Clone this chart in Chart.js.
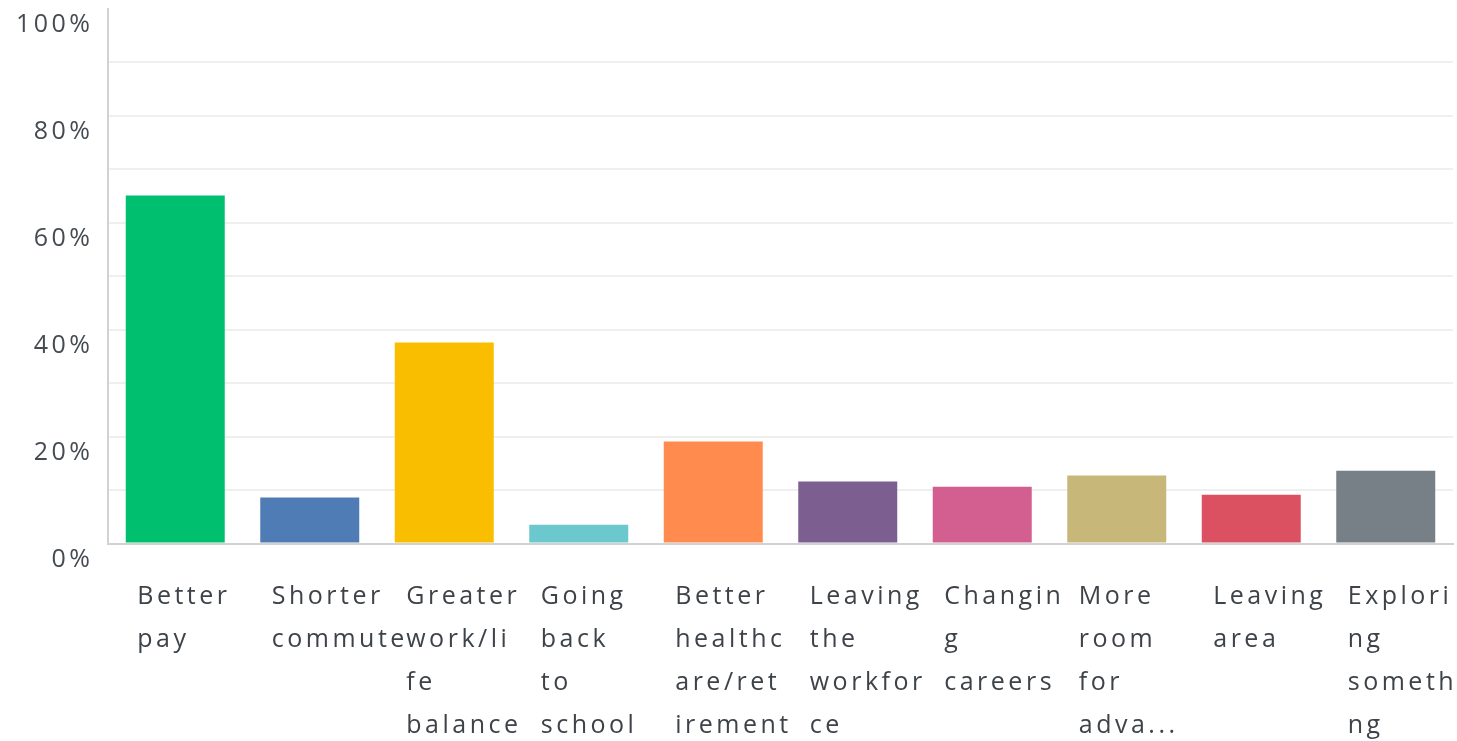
<!DOCTYPE html>
<html>
<head>
<meta charset="utf-8">
<script src="https://cdn.jsdelivr.net/npm/chart.js@4"></script>
<style>
  html, body { margin: 0; padding: 0; background: #ffffff; overflow: hidden; }
  canvas { display: block; }
</style>
</head>
<body>
<canvas id="chart" width="1457" height="741"></canvas>
<script>
// Reasons for looking for a new job, share of respondents
const categories = [
  "Better pay",
  "Shorter commute",
  "Greater work/life balance",
  "Going back to school",
  "Better healthcare/retirement",
  "Leaving the workforce",
  "Changing careers",
  "More room for advancement",
  "Leaving area",
  "Exploring something"
];

// Category names as they are wrapped under the bars
const tickLabels = [
  ["Better", "pay"],
  ["Shorter", "commute"],
  ["Greater", "work/li", "fe", "balance"],
  ["Going", "back", "to", "school"],
  ["Better", "healthc", "are/ret", "irement"],
  ["Leaving", "the", "workfor", "ce"],
  ["Changin", "g", "careers"],
  ["More", "room", "for", "adva..."],
  ["Leaving", "area"],
  ["Explori", "ng", "somethi", "ng"]
];

const percentages = [65.1, 8.6, 37.6, 3.5, 19.1, 11.6, 10.6, 12.7, 9.1, 13.6];

const barColors = [
  "#00bf6f", "#507cb6", "#f9be00", "#6bc8cd", "#ff8b4f",
  "#7d5e90", "#d25f90", "#c7b879", "#dc5161", "#768086"
];

// Labelled percentages on the value axis (grid lines run every 10%)
const yTickLabels = [0, 20, 40, 60, 80, 100];

const TEXT_TRACKING = "3.5px";
const FONT_FAMILY = "'Open Sans', sans-serif";

// Wider letter spacing for every text drawn on the canvas
const tracking = {
  id: "tracking",
  beforeLayout(chart) { chart.ctx.letterSpacing = TEXT_TRACKING; },
  beforeDraw(chart) { chart.ctx.letterSpacing = TEXT_TRACKING; }
};

new Chart(document.getElementById("chart"), {
  type: "bar",
  data: {
    labels: categories,
    datasets: [{
      data: percentages,
      backgroundColor: barColors,
      borderWidth: 0,
      categoryPercentage: 1,
      barPercentage: 0.736
    }]
  },
  plugins: [tracking],
  options: {
    responsive: false,
    animation: false,
    layout: { padding: { top: 9, right: 4, left: 0, bottom: 0 } },
    plugins: {
      legend: { display: false },
      tooltip: { enabled: false }
    },
    scales: {
      x: {
        grid: { color: "rgba(0,0,0,0)", drawTicks: false },
        border: { display: true, color: "#d2d2d2", width: 2 },
        ticks: {
          autoSkip: false,
          maxRotation: 0,
          minRotation: 0,
          align: "start",
          labelOffset: -38,
          padding: 32,
          color: "#3e4349",
          font: { family: FONT_FAMILY, size: 25, lineHeight: 43 / 25 },
          callback: (value, index) => tickLabels[index]
        },
        afterFit(scale) {
          scale.height = 197.5;
          scale.paddingLeft = 0;
          scale.paddingRight = 0;
        }
      },
      y: {
        min: 0,
        max: 100,
        grid: {
          drawTicks: false,
          lineWidth: 2,
          color: (ctx) => (ctx.tick && (ctx.tick.value === 100 || ctx.tick.value === 0))
            ? "rgba(0,0,0,0)" : "#efefef"
        },
        border: { display: true, color: "#d2d2d2", width: 2 },
        ticks: {
          stepSize: 10,
          padding: 14.5,
          labelOffset: 16,
          color: "#464b51",
          font: { family: FONT_FAMILY, size: 25 },
          callback: (value) => yTickLabels.includes(value) ? value + "%" : ""
        },
        afterFit(scale) {
          scale.width = 108;
          scale.paddingTop = 0;
          scale.paddingBottom = 0;
        }
      }
    }
  }
});
</script>
</body>
</html>
